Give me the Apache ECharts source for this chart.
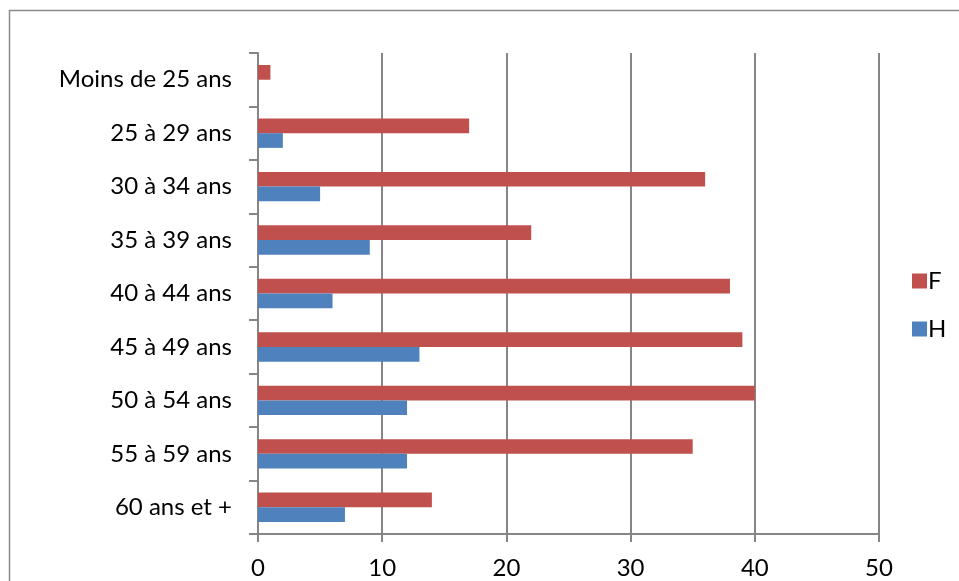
<!DOCTYPE html>
<html><head><meta charset="utf-8">
<script src="https://cdn.jsdelivr.net/npm/echarts@6/dist/echarts.min.js"></script>
<style>html,body{margin:0;padding:0;background:#fff}#c{width:959px;height:581px}</style>
</head><body><div id="c"></div>
<script>
const categories = ['Moins de 25 ans','25 à 29 ans','30 à 34 ans','35 à 39 ans','40 à 44 ans','45 à 49 ans','50 à 54 ans','55 à 59 ans','60 ans et +'];
const valuesF = [1, 17, 36, 22, 38, 39, 40, 35, 14];
const valuesH = [0, 2, 5, 9, 6, 13, 12, 12, 7];
const xTicks = [0, 10, 20, 30, 40, 50];

const FONT = 'Lato';
const chart = echarts.init(document.getElementById('c'), null, {renderer:'canvas'});
chart.setOption({
  animation: false,
  backgroundColor: '#fff',
  textStyle: {fontFamily: FONT},
  graphic: [{
    type: 'rect', z: -1, silent: true,
    shape: {x: 9.5, y: 10.5, width: 1200, height: 1200},
    style: {fill: 'none', stroke: '#8c8c8c', lineWidth: 1.5}
  }],
  legend: {
    orient: 'vertical', left: 907, top: 264, itemGap: 24,
    itemWidth: 15, itemHeight: 15, icon: 'rect',
    data: ['F','H'],
    textStyle: {fontFamily: FONT, fontSize: 24, color: '#000', padding: [0,0,0,-4]}
  },
  grid: {left: 258, right: 80, top: 53, bottom: 47, containLabel: false},
  xAxis: {
    type: 'value', min: xTicks[0], max: xTicks[xTicks.length-1], interval: 10,
    axisLine: {show: true, lineStyle: {color: '#868686', width: 2}},
    axisTick: {show: true, length: 8, lineStyle: {color: '#868686', width: 2}},
    splitLine: {show: true, lineStyle: {color: '#868686', width: 2}},
    axisLabel: {fontFamily: FONT, fontSize: 24, color: '#000', margin: 22,
      formatter: v => xTicks.includes(v) ? String(v) : ''}
  },
  yAxis: {
    type: 'category', inverse: true, data: categories,
    axisLine: {show: true, lineStyle: {color: '#868686', width: 2}},
    axisTick: {show: true, length: 9, lineStyle: {color: '#868686', width: 2}},
    splitLine: {show: false},
    axisLabel: {fontFamily: FONT, fontSize: 24, color: '#000', margin: 26}
  },
  series: [
    {name: 'F', type: 'bar', data: valuesF, barGap: '0%', barCategoryGap: '45%',
      itemStyle: {color: '#C0504D'}},
    {name: 'H', type: 'bar', data: valuesH, barGap: '0%', barCategoryGap: '45%',
      itemStyle: {color: '#4F81BD'}}
  ]
});
</script></body></html>
